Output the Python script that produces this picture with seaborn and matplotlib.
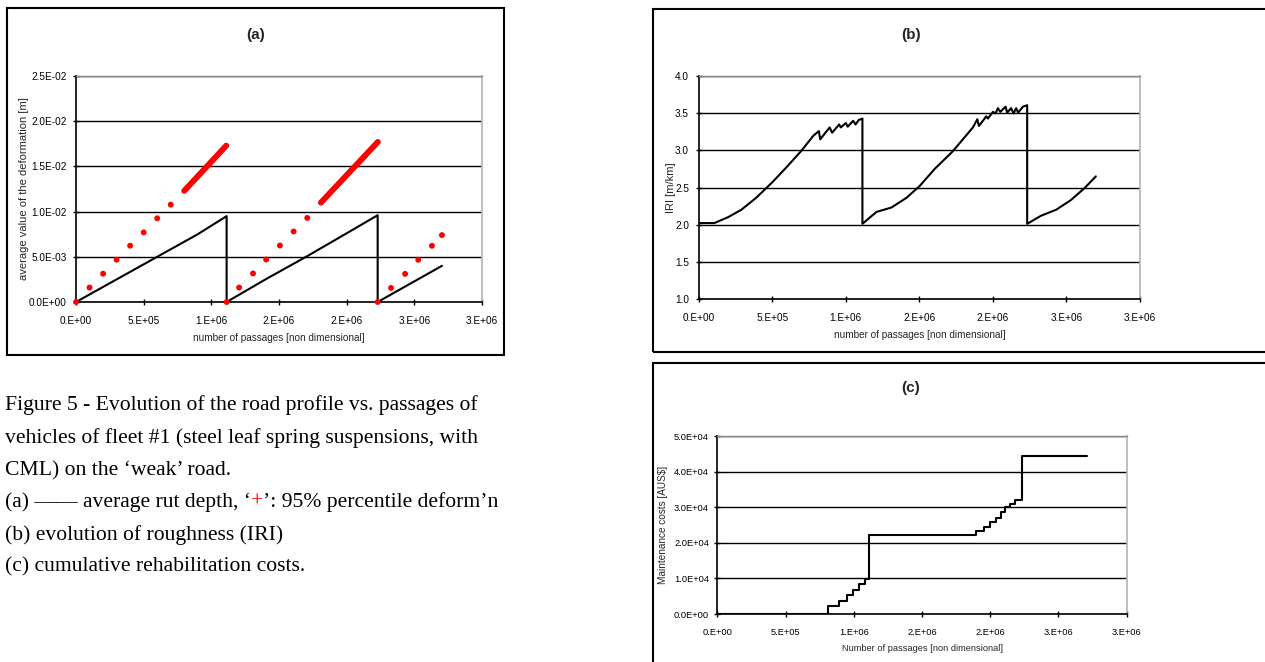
import numpy as np
import pandas as pd
import matplotlib
matplotlib.use('Agg')
import matplotlib.pyplot as plt
import seaborn as sns
from matplotlib.patches import Rectangle

# ---- data ----
x_ticks = [0, 500000, 1000000, 1500000, 2000000, 2500000, 3000000]
x_tick_labels = ['0.E+00', '5.E+05', '1.E+06', '2.E+06', '2.E+06', '3.E+06', '3.E+06']

# (a) average rut depth (black line)
rut_x = [0, 300000, 600000, 900000, 1113000, 1113000, 1400000, 1700000,
         2000000, 2229000, 2229000, 2704000]
rut_y = [0, 0.0025, 0.0050, 0.0075, 0.0095, 0, 0.0025, 0.0050,
         0.0076, 0.0096, 0, 0.0040]

# (a) 95% percentile deformation (red dots)
p95_x_sparse = [0, 100000, 200000, 300000, 400000, 500000, 600000, 700000,
                1113000, 1205000, 1308000, 1405000, 1507000, 1608000, 1709000,
                2229000, 2328000, 2432000, 2529000, 2630000, 2704000]
p95_y_sparse = [0, 0.00160, 0.00313, 0.00468, 0.00623, 0.00770, 0.00926, 0.01077,
                0, 0.00160, 0.00316, 0.00470, 0.00625, 0.00780, 0.00930,
                0, 0.00156, 0.00311, 0.00467, 0.00622, 0.00740]
p95_x_dense1 = np.arange(800000, 1110001, 10000)
p95_y_dense1 = [0.01230, 0.01246, 0.01262, 0.01278, 0.01294, 0.01311, 0.01327, 0.01343,
                0.01359, 0.01375, 0.01391, 0.01407, 0.01423, 0.01439, 0.01455, 0.01472,
                0.01488, 0.01504, 0.01520, 0.01536, 0.01552, 0.01568, 0.01584, 0.01600,
                0.01616, 0.01633, 0.01649, 0.01665, 0.01681, 0.01697, 0.01713, 0.01729]
p95_x_dense2 = np.arange(1810000, 2230001, 10000)
p95_y_dense2 = [0.01100, 0.01116, 0.01132, 0.01148, 0.01164, 0.01180, 0.01196, 0.01212,
                0.01228, 0.01244, 0.01260, 0.01275, 0.01291, 0.01307, 0.01323, 0.01339,
                0.01355, 0.01371, 0.01387, 0.01403, 0.01419, 0.01435, 0.01451, 0.01467,
                0.01483, 0.01499, 0.01515, 0.01530, 0.01546, 0.01562, 0.01578, 0.01594,
                0.01610, 0.01626, 0.01642, 0.01658, 0.01674, 0.01690, 0.01706, 0.01722,
                0.01738, 0.01754, 0.01770]

# (b) roughness IRI
iri_x = [0, 106000, 200000, 290000, 390000, 500000, 600000, 700000, 780000,
         817000, 826000, 890000, 907000, 955000, 966000, 1000000, 1013000, 1050000, 1066000,
         1088000, 1113000, 1113000,
         1208000, 1310000, 1412000, 1502000, 1604000, 1728000, 1830000,
         1864000, 1894000, 1905000, 1955000, 1966000, 2000000,
         2018000, 2034000, 2050000, 2086000, 2097000, 2124000, 2140000, 2158000, 2172000, 2204000,
         2233000, 2233000,
         2328000, 2430000, 2530000, 2622000, 2700000]
iri_y = [2.02, 2.02, 2.10, 2.20, 2.36, 2.57, 2.78, 3.00, 3.20,
         3.26, 3.15, 3.31, 3.24, 3.35, 3.31, 3.37, 3.32, 3.40, 3.35,
         3.41, 3.43, 2.01,
         2.17, 2.23, 2.36, 2.52, 2.75, 2.99, 3.23,
         3.31, 3.42, 3.33, 3.46, 3.43, 3.52,
         3.50, 3.57, 3.52, 3.59, 3.51, 3.57, 3.50, 3.57, 3.51, 3.59,
         3.61, 2.01,
         2.12, 2.20, 2.33, 2.49, 2.65]

# (c) cumulative maintenance costs (step changes)
cost_x = [0, 814000, 895000, 949000, 993000, 1039000, 1083000, 1115000, 1897000,
          1951000, 2000000, 2044000, 2080000, 2110000, 2142000, 2183000, 2232000, 2709000]
cost_y = [0, 2300, 3700, 5300, 6700, 8400, 9800, 22200, 23400,
          24500, 26000, 27000, 28800, 30000, 31000, 32000, 44500, 44500]

caption_lines = [
    "Figure 5 - Evolution of the road profile vs. passages of",
    "vehicles of fleet #1 (steel leaf spring suspensions, with",
    "CML) on the \u2018weak\u2019 road.",
    None,
    "(b) evolution of roughness (IRI)",
    "(c) cumulative rehabilitation costs.",
]
caption_a = [("(a) \u2014\u2014 average rut depth, \u2018", 'black'), ("+", 'red'),
             ("\u2019: 95% percentile deform\u2019n", 'black')]

# ---- figure ----
W, H = 1265, 662
sns.set_style('white')
plt.rcParams['font.family'] = ['Liberation Sans', 'DejaVu Sans']

fig = plt.figure(figsize=(W / 100, H / 100), dpi=100)


def rect(l, t, r, b):
    return [l / W, 1 - b / H, (r - l) / W, (b - t) / H]


def style_axes(ax, yticks, ylabels, xlabel, ylabel, xl_y, yl_x, ypad, tsize=7.2, ysize=8):
    ax.set_xlim(0, 3000000)
    ax.set_ylim(yticks[0], yticks[-1])
    ax.set_xticks(x_ticks, x_tick_labels)
    ax.set_yticks(yticks, ylabels)
    ax.grid(axis='y', color='black', lw=1.0)
    ax.grid(axis='x', visible=False)
    ax.set_axisbelow(True)
    for s in ['left', 'bottom']:
        ax.spines[s].set_color('black')
        ax.spines[s].set_linewidth(1.2)
    ax.spines['top'].set_color('#8a8a8a')
    ax.spines['right'].set_color('#b4b4b4')
    ax.spines['top'].set_linewidth(1.0)
    ax.spines['right'].set_linewidth(1.2)
    ax.tick_params(direction='inout', length=5, width=1, labelsize=tsize,
                   colors='black', left=True, bottom=True)
    ax.tick_params(axis='x', pad=7.5)
    ax.tick_params(axis='y', pad=ypad)
    ax.set_xlabel(xlabel, fontsize=tsize)
    ax.set_ylabel(ylabel, fontsize=ysize)
    ax.xaxis.set_label_coords(0.5, xl_y)
    ax.yaxis.set_label_coords(yl_x, 0.5)


# panel frames
for l, t, r, b in [(7, 8, 504, 355), (653, 9, 1275, 352), (653, 363, 1275, 680)]:
    fig.add_artist(Rectangle((l / W, 1 - b / H), (r - l) / W, (b - t) / H,
                             transform=fig.transFigure, fill=False,
                             edgecolor='black', lw=1.5))

# (a)
ax_a = fig.add_axes(rect(76, 76, 482, 302))
dots = pd.DataFrame({
    'passages': np.concatenate([p95_x_sparse, p95_x_dense1, p95_x_dense2]),
    'deformation': np.concatenate([p95_y_sparse, p95_y_dense1, p95_y_dense2]),
})
sns.scatterplot(data=dots, x='passages', y='deformation', color='#ff0000', s=18,
                edgecolor='none', ax=ax_a, clip_on=False, zorder=3)
sns.lineplot(x=rut_x, y=rut_y, color='black', lw=1.5, sort=False, estimator=None,
             ax=ax_a, zorder=2)
style_axes(ax_a, [0, 0.005, 0.01, 0.015, 0.02, 0.025],
           ['0.0E+00', '5.0E-03', '1.0E-02', '1.5E-02', '2.0E-02', '2.5E-02'],
           'number of passages [non dimensional]',
           'average value of the deformation [m]', -0.137, -0.115, 4)
fig.text(256 / W, 1 - 35 / H, '(a)', fontsize=11, fontweight='bold', ha='center', va='center')

# (b)
ax_b = fig.add_axes(rect(698.7, 76.3, 1140, 298.7))
sns.lineplot(x=iri_x, y=iri_y, color='black', lw=1.5, sort=False, estimator=None, ax=ax_b)
style_axes(ax_b, [1.0, 1.5, 2.0, 2.5, 3.0, 3.5, 4.0],
           ['1.0', '1.5', '2.0', '2.5', '3.0', '3.5', '4.0'],
           'number of passages [non dimensional]', 'IRI [m/km]', -0.141, -0.051, 4.5)
fig.text(911 / W, 1 - 35 / H, '(b)', fontsize=11, fontweight='bold', ha='center', va='center')

# (c)
ax_c = fig.add_axes(rect(717.3, 436.3, 1126.7, 614))
sns.lineplot(x=cost_x, y=cost_y, color='black', lw=1.5, sort=False, estimator=None,
             drawstyle='steps-post', ax=ax_c)
style_axes(ax_c, [0, 10000, 20000, 30000, 40000, 50000],
           ['0.0E+00', '1.0E+04', '2.0E+04', '3.0E+04', '4.0E+04', '5.0E+04'],
           'Number of passages [non dimensional]', 'Maintenance costs [AUS$]',
           -0.169, -0.12, 3.5, tsize=6.7, ysize=7.2)
fig.text(911 / W, 1 - 388 / H, '(c)', fontsize=11, fontweight='bold', ha='center', va='center')

# caption
serif = dict(family=['Liberation Serif', 'DejaVu Serif'], fontsize=15.6, va='baseline')
baselines = [410, 443, 475, 507, 540, 571]
for line, yb in zip(caption_lines, baselines):
    if line is not None:
        fig.text(5 / W, 1 - yb / H, line, color='black', **serif)

renderer = fig.canvas.get_renderer()
xpos = 5
for piece, col in caption_a:
    t = fig.text(xpos / W, 1 - baselines[3] / H, piece, color=col, **serif)
    xpos += t.get_window_extent(renderer).width

fig.savefig('out.png', dpi=100)
